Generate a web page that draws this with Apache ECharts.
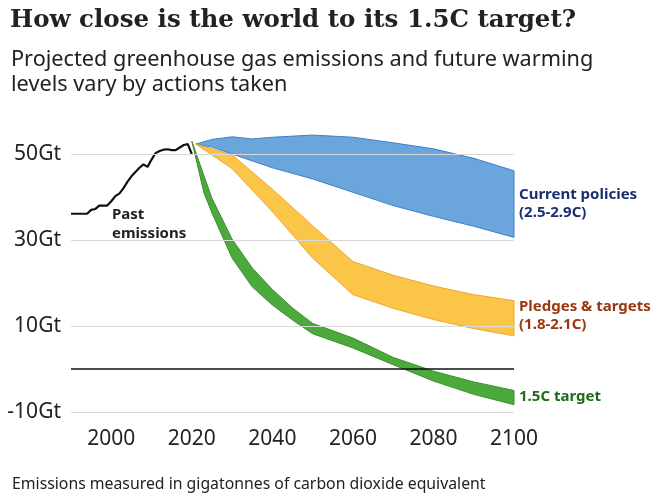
<!DOCTYPE html>
<html>
<head>
<meta charset="utf-8">
<script src="https://cdn.jsdelivr.net/npm/echarts@6/dist/echarts.min.js"></script>
<style>html,body{margin:0;padding:0;background:#fff}#c{width:658px;height:500px}</style>
</head>
<body>
<div id="c"></div>
<script>
// ---- data ----
const pastYears = [1990,1994,1995,1996,1997,1999,2000,2001,2002,2003,2004,2005,2006,2007,2008,2009,2010,2011,2012,2013,2014,2015,2016,2017,2018,2019,2020];
const pastValues = [36.1,36.1,37.0,37.2,38.0,38.0,39.0,40.2,40.8,42.0,43.5,44.8,45.8,46.8,47.6,47.0,48.7,50.2,50.7,51.0,51.1,50.9,50.9,51.5,52.1,52.3,50.0];

const policyYears = [2021,2025,2030,2035,2040,2050,2060,2070,2080,2090,2100];
const policyUpper = [52.3,53.4,54.0,53.5,53.9,54.4,53.9,52.6,51.2,49.0,46.1];
const policyLower = [52.3,51.6,50.0,48.4,46.8,44.2,41.1,38.0,35.5,33.2,30.6];

const pledgeYears = [2021,2030,2040,2050,2060,2070,2080,2090,2100];
const pledgeUpper = [52.3,49.8,41.8,33.3,25.0,21.8,19.3,17.3,15.9];
const pledgeLower = [52.3,46.6,36.6,25.8,17.3,14.1,11.5,9.4,7.7];

const targetYears = [2020,2023,2025,2030,2035,2040,2045,2050,2060,2070,2080,2090,2100];
const targetUpper = [53,45.0,39.7,30.2,23.5,18.5,14.2,10.6,7.2,2.7,-0.5,-3.0,-5.0];
const targetLower = [53,41.0,36.3,25.8,19.1,14.9,11.4,8.2,4.9,1.0,-2.8,-5.9,-8.3];

const yTickLabels = [-10,10,30,50];
const xTickLabels = [2000,2020,2040,2060,2080,2100];

const sans = 'Noto Sans';

function band(name, years, lower, upper, fill, stroke) {
  return {
    type: 'custom', name: name, z: 3, silent: true,
    data: years.map((y, i) => [y, lower[i], upper[i]]),
    encode: { x: 0, y: [1, 2] },
    renderItem: function (params, api) {
      if (params.dataIndex !== 0) return null;
      const pts = [];
      for (let i = 0; i < years.length; i++) pts.push(api.coord([years[i], upper[i]]));
      for (let i = years.length - 1; i >= 0; i--) pts.push(api.coord([years[i], lower[i]]));
      return { type: 'polygon', shape: { points: pts }, style: { fill: fill, stroke: stroke, lineWidth: 1, lineJoin: 'round' } };
    }
  };
}

const chart = echarts.init(document.getElementById('c'), null, { renderer: 'canvas' });
chart.setOption({
  animation: false,
  backgroundColor: '#fff',
  title: [
    { text: 'How close is the world to its 1.5C target?', left: 5, top: 3,
      textStyle: { fontFamily: 'DejaVu Serif', fontSize: 24.5, fontWeight: 'bold', color: '#222' } },
    { text: 'Projected greenhouse gas emissions and future warming\nlevels vary by actions taken', left: 6, top: 42,
      textStyle: { fontFamily: sans, fontSize: 21.7, fontWeight: 'normal', color: '#222', lineHeight: 25 } },
    { text: 'Emissions measured in gigatonnes of carbon dioxide equivalent', left: 7, top: 471,
      textStyle: { fontFamily: sans, fontSize: 15.8, fontWeight: 'normal', color: '#222' } }
  ],
  grid: { left: 71, right: 144, top: 111, bottom: 88, containLabel: false },
  xAxis: {
    type: 'value', min: 1990, max: 2100, interval: 10,
    axisLine: { show: false }, axisTick: { show: false }, splitLine: { show: false },
    axisLabel: { margin: 17, fontFamily: sans, fontSize: 21, color: '#222',
      formatter: v => xTickLabels.indexOf(v) >= 0 ? String(v) : '' }
  },
  yAxis: {
    type: 'value', min: -10, max: 60, interval: 10,
    axisLine: { show: false }, axisTick: { show: false }, splitLine: { show: false },
    axisLabel: { margin: 10, fontFamily: sans, fontSize: 21, color: '#222',
      formatter: v => yTickLabels.indexOf(v) >= 0 ? v + 'Gt' : '' }
  },
  series: [
    { type: 'line', name: 'grid', z: 1, silent: true, data: [],
      markLine: { silent: true, symbol: 'none', label: { show: false },
        lineStyle: { color: '#d9d9d9', width: 1, type: 'solid' },
        data: yTickLabels.map(v => ({ yAxis: v })) } },
    band('Current policies', policyYears, policyLower, policyUpper, '#6aa6dc', '#3f7fcc'),
    band('Pledges & targets', pledgeYears, pledgeLower, pledgeUpper, '#fbc548', '#f2a531'),
    band('1.5C target', targetYears, targetLower, targetUpper, '#4caa3c', '#3a8f2e'),
    { type: 'line', name: 'Past emissions', z: 4, silent: true, symbol: 'none',
      data: pastYears.map((y, i) => [y, pastValues[i]]),
      lineStyle: { color: '#111', width: 2.2 },
      markLine: { silent: true, symbol: 'none', label: { show: false },
        lineStyle: { color: '#111', width: 1.5, type: 'solid' }, data: [{ yAxis: 0 }] } }
  ],
  graphic: [
    { type: 'text', left: 112, top: 205, style: { text: 'Past\nemissions', fontFamily: sans, fontSize: 15, fontWeight: 'bold', fill: '#222', lineHeight: 19 } },
    { type: 'text', left: 519, top: 186, style: { text: 'Current policies\n(2.5-2.9C)', fontFamily: sans, fontSize: 15, fontWeight: 'bold', fill: '#1b2f6e', lineHeight: 18 } },
    { type: 'text', left: 519, top: 298, style: { text: 'Pledges & targets\n(1.8-2.1C)', fontFamily: sans, fontSize: 15, fontWeight: 'bold', fill: '#9a3610', lineHeight: 18 } },
    { type: 'text', left: 519, top: 388, style: { text: '1.5C target', fontFamily: sans, fontSize: 15, fontWeight: 'bold', fill: '#1f6b1a', lineHeight: 18 } }
  ]
});
</script>
</body>
</html>
